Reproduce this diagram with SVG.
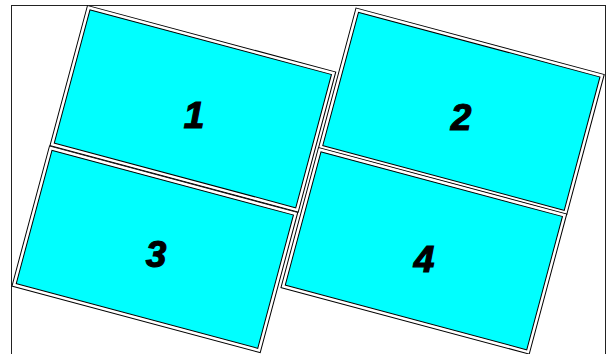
<svg xmlns="http://www.w3.org/2000/svg" width="610" height="354" viewBox="0 0 610 354">
  <style>
    .outer { fill: #ffffff; stroke: #000000; stroke-width: 1; }
    .inner { fill: #00ffff; stroke: #000000; stroke-width: 1; }
    .num { font-family: "Liberation Sans", Arial, sans-serif; font-weight: bold; font-style: italic; font-size: 37px; fill: #000000; stroke: #000000; stroke-width: 1.2; text-anchor: middle; }
    .frame { fill: none; stroke: #222222; stroke-width: 1; }
  </style>
  <rect x="0" y="0" width="610" height="354" fill="#ffffff"/>
  <rect class="frame" x="11.5" y="5.5" width="594" height="400"/>
  <g id="panel1">
    <g transform="translate(87.5,5.5) rotate(15)">
      <rect class="outer" x="0" y="0" width="257" height="145"/>
      <rect class="inner" x="3.5" y="3.5" width="250" height="138"/>
    </g>
    <text class="num" x="194" y="128">1</text>
  </g>
  <g id="panel2">
    <g transform="translate(356,8) rotate(15)">
      <rect class="outer" x="0" y="0" width="257" height="145"/>
      <rect class="inner" x="3.5" y="3.5" width="250" height="138"/>
    </g>
    <text class="num" x="461" y="130">2</text>
  </g>
  <g id="panel3">
    <g transform="translate(49.5,146) rotate(15)">
      <rect class="outer" x="0" y="0" width="257" height="145"/>
      <rect class="inner" x="3.5" y="3.5" width="250" height="138"/>
    </g>
    <text class="num" x="156" y="267">3</text>
  </g>
  <g id="panel4">
    <g transform="translate(318.5,147.5) rotate(15)">
      <rect class="outer" x="0" y="0" width="257" height="145"/>
      <rect class="inner" x="3.5" y="3.5" width="250" height="138"/>
    </g>
    <text class="num" x="424" y="272">4</text>
  </g>
</svg>
